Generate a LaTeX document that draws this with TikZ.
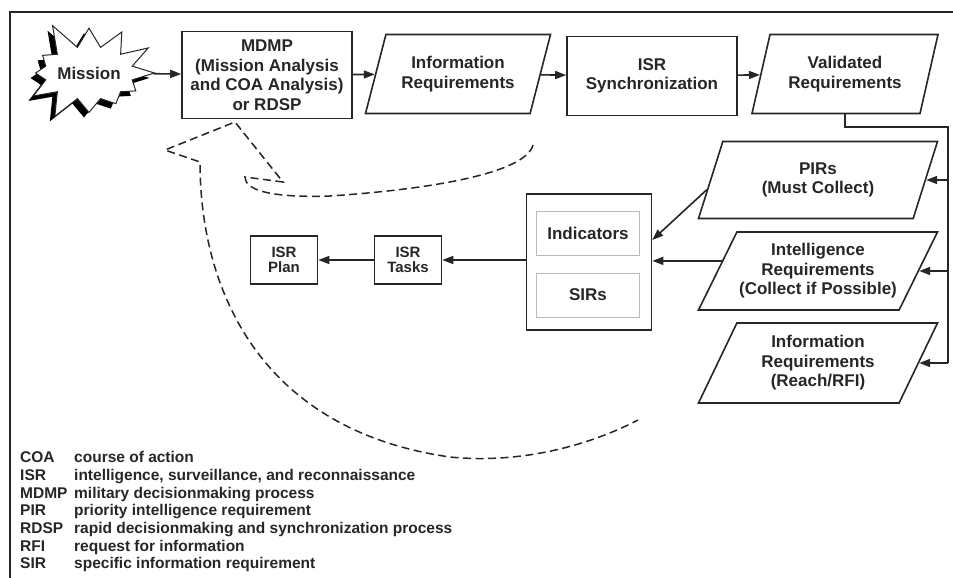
\documentclass[tikz,border=0pt]{standalone}
\usepackage{fontspec}
\setmainfont{Liberation Sans}
\usepackage{tikz}
\usetikzlibrary{shapes}
\usetikzlibrary{shapes.geometric}
\usetikzlibrary{shapes.symbols}
\usetikzlibrary{arrows.meta}
\usetikzlibrary{shadows}

\definecolor{ink}{HTML}{262626}

\tikzset{
  lbl/.style={font=\bfseries\fontsize{17}{19.5}\selectfont, text=ink, align=center},
  box/.style={lbl, draw=ink, line width=1.6pt, rectangle, inner sep=0pt},
  smallbox/.style={box, font=\bfseries\fontsize{15}{15.5}\selectfont,
     minimum width=67pt, minimum height=48pt},
  inbox/.style={lbl, draw=gray!55, line width=1pt, rectangle, inner sep=0pt,
     minimum width=103pt, minimum height=44pt},
  para/.style={lbl, draw=ink, line width=1.6pt, shape=trapezium,
     trapezium left angle=#1, trapezium right angle={180-#1},
     trapezium stretches body, inner sep=0pt},
  para/.default=60,
  burst/.style={lbl, shape=starburst, draw=ink, fill=white, line width=1pt,
     starburst points=12, starburst point height=30pt, random starburst=5,
     minimum width=140pt, minimum height=113pt, inner sep=0pt,
     drop shadow={shadow xshift=-5pt, shadow yshift=-5pt, fill=black, opacity=1}},
  line/.style={draw=ink, line width=1.6pt},
  arr/.style={line, -{Triangle[length=11pt,width=8pt]}},
  feedback/.style={draw=ink, line width=1.5pt, dash pattern=on 8pt off 4.5pt},
  legend/.style={font=\bfseries\fontsize{15.5}{17}\selectfont, text=ink,
     inner sep=0pt, anchor=base west}
}

\begin{document}
\begin{tikzpicture}[x=1pt, y=-1pt]
\useasboundingbox (0,0) rectangle (953,578);
% frame
\draw[line] (953,12) -- (10,12) -- (10,578);

% top row
\node[burst] (mission) at (89,73) {Mission};
\node[box, 
   minimum width=170pt, 
   minimum height=87pt] (mdmp) at (267,75) 
  {MDMP\\(Mission Analysis\\and COA Analysis)\\or RDSP};
\node[para, 
   minimum width=185pt, 
   minimum height=79pt] (inforeq) at (458,74) 
  {Information\\Requirements};
\node[box, 
   minimum width=170pt, 
   minimum height=79pt] (isrsync) at (652,76) 
  {ISR\\Synchronization};
\node[para=63, 
   minimum width=186pt, 
   minimum height=79pt] (valreq) at (845,74) 
  {Validated\\Requirements};

% requirement types
\node[para=55, 
   minimum width=239pt, 
   minimum height=77pt] (pirs) at (818,180) 
  {PIRs\\(Must Collect)};
\node[para=55, 
   minimum width=239pt, 
   minimum height=78pt] (intreq) at (818,271) 
  {Intelligence\\Requirements\\(Collect if Possible)};
\node[para=55, 
   minimum width=239pt, 
   minimum height=80pt] (rfireq) at (818,363) 
  {Information\\Requirements\\(Reach/RFI)};

% indicators and SIRs
\node[box, 
   minimum width=125pt, 
   minimum height=136pt] (indsir) at (589,262) {};
\node[inbox] (indicators) at (588,233) {Indicators};
\node[inbox] (sirs) at (588,295) {SIRs};
\node[smallbox] (isrtasks) at (408,260) {ISR\\Tasks};
\node[smallbox] (isrplan) at (284,260) {ISR\\Plan};

% connectors
\draw[arr] (mission) -- (mdmp);
\draw[arr] (mdmp) -- (inforeq);
\draw[arr] (inforeq) -- (isrsync);
\draw[arr] (isrsync) -- (valreq);
\coordinate (bustop) at (948,127);
\draw[line] (valreq.south) |- (bustop) -- (bustop |- rfireq.east);
\draw[arr] (bustop |- pirs.east) -- (pirs.east);
\draw[arr] (bustop |- intreq.east) -- (intreq.east);
\draw[arr] (bustop |- rfireq.east) -- (rfireq.east);
\draw[arr] (pirs.185) -- ([yshift=22pt]indsir.east);
\draw[arr] (intreq.174) -- (intreq.174 -| indsir.east);
\draw[arr] (indsir.west |- isrtasks.east) -- (isrtasks.east);
\draw[arr] (isrtasks) -- (isrplan);

% feedback arrow
\draw[feedback] (533,145) .. controls (525,175) and (420,190) .. (330,196)
  .. controls (270,198) and (245,190) .. (245,177)
  -- (283,182) -- (235,122) -- (165,150) -- (200,162)
  .. controls (200,290) and (260,430) .. (450,457)
  .. controls (530,465) and (600,440) .. (638,420);

% legend
\foreach \ab/\df [count=\i] in {COA/course of action,
    ISR/{intelligence, surveillance, and reconnaissance},
    MDMP/military decisionmaking process,
    PIR/priority intelligence requirement,
    RDSP/rapid decisionmaking and synchronization process,
    RFI/request for information,
    SIR/specific information requirement}
{
  \node[legend] (ab\i) at (20,445+17.7*\i) {\ab};
  \node[legend] (df\i) at (74,445+17.7*\i) {\df};
}
\end{tikzpicture}
\end{document}
